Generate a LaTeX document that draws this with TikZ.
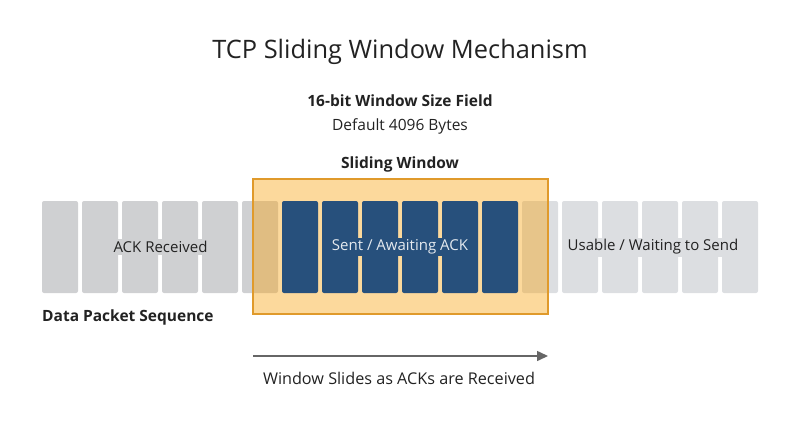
\documentclass[tikz,border=0pt]{standalone}
\usepackage{fontspec}
\setmainfont{Open Sans}
\usetikzlibrary{arrows.meta}

\definecolor{ackGray}{HTML}{CFD0D2}
\definecolor{freeGray}{HTML}{DCDEE1}
\definecolor{sentBlue}{HTML}{27507C}
\definecolor{winOrange}{HTML}{F8A414}
\definecolor{winEdge}{HTML}{E09A2B}
\definecolor{textDark}{HTML}{222222}

\def \slotWidth {36pt}
\def \slotHeight {92pt}

\tikzset{
  slot/.style={rectangle, rounded corners=2pt, inner sep=0pt,
    minimum width=\slotWidth, minimum height=\slotHeight},
  label/.style={text=textDark, font=\fontsize{15.5}{19}\selectfont},
  boldlabel/.style={label, font=\fontsize{15.5}{19}\selectfont\bfseries},
  slotlabel/.style={label, font=\fontsize{15}{18}\selectfont, inner xsep=3pt, inner ysep=2pt}
}

\begin{document}
\begin{tikzpicture}[x=1pt, y=-1pt]
         \useasboundingbox (0,0) rectangle (800,447);
         \node[text=textDark, font=\fontsize{25.4}{30}\selectfont] (title) at (400, 52) {TCP Sliding Window Mechanism};
         \node[boldlabel] (field) at (400, 101) {16-bit Window Size Field};
         \node[label] (default) at (400, 126) {Default 4096 Bytes};
         % packets before and after the window
         \foreach \i in {0,...,5} \node[slot, fill=ackGray] (ack\i) at (60 + 40 * \i, 247) {};
         \foreach \i in {12,...,17} \node[slot, fill=freeGray] (free\i) at (60 + 40 * \i, 247) {};
         \node[rectangle, inner sep=0pt, minimum width=295pt, minimum height=135pt, fill=winOrange, fill opacity=0.42,
               draw=winEdge, line width=1.5pt] (window) at (400.5, 246.5) {};
         \foreach \i in {6,...,11} \node[slot, fill=sentBlue] (sent\i) at (60 + 40 * \i, 247) {};
         \node[boldlabel] (windowTitle) at (400, 164) {Sliding Window};
         \node[slotlabel, fill=ackGray] (ackText) at (160.5, 247) {ACK Received};
         \node[slotlabel, fill=sentBlue, text=white!88!sentBlue] (sentText) at (400, 247) {Sent / Awaiting ACK};
         \node[slotlabel, fill=freeGray] (freeText) at (653, 247) {Usable / Waiting to Send};
         \node[boldlabel, anchor=west, inner sep=0pt] (sequence) at (42, 317) {Data Packet Sequence};
         \coordinate (slideStart) at (253, 356);
         \coordinate (slideEnd) at (548, 356);
         \draw[-{Triangle[length=11pt, width=10pt]}, draw=black!60, fill=black!60, line width=1.5pt] (slideStart) -- (slideEnd);
         \node[label, font=\fontsize{16.2}{19}\selectfont] (slideText) at (399, 378) {Window Slides as ACKs are Received};
      \end{tikzpicture}
\end{document}
